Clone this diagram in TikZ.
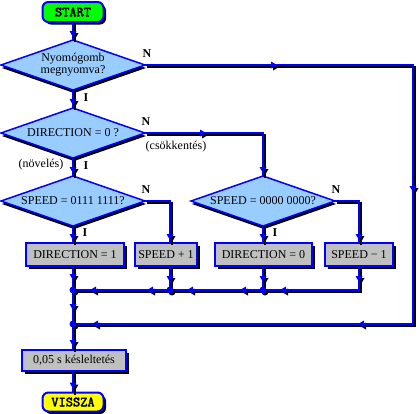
\documentclass[tikz,border=0pt]{standalone}
\usepackage{fontspec}
\setmainfont{Liberation Serif}
\newfontfamily\termfont{Latin Modern Mono}[FakeBold=3]
\usetikzlibrary{shapes.geometric,shadows,decorations.markings}
\definecolor{dfill}{RGB}{153,204,255}
\definecolor{bfill}{RGB}{192,192,192}
\definecolor{gfill}{RGB}{0,255,0}
\definecolor{yfill}{RGB}{255,255,0}
% connector: list of named points; draws a shifted black shadow, then the blue line
\newcommand\cnx[2][]{%
  \gdef\shpath{}\gdef\mnpath{}%
  \foreach \p [count=\i] in {#2}{%
    \ifnum\i=1
      \xdef\shpath{([shift={(2pt,-2pt)}]\p)}\xdef\mnpath{(\p)}%
    \else
      \xdef\shpath{\shpath -- ([shift={(2pt,-2pt)}]\p)}\xdef\mnpath{\mnpath -- (\p)}%
    \fi}%
  \edef\cnxdo{\noexpand\draw[shline,#1] \shpath; \noexpand\draw[conn,#1] \mnpath;}%
  \cnxdo}
\begin{document}
\begin{tikzpicture}[x=1pt,y=-1pt,
 shd/.style={drop shadow={shadow xshift=#1,shadow yshift=-#1,fill=black,opacity=1}},
 shd/.default=3pt,
 dec/.style={diamond, aspect=2.88, minimum width=144pt, minimum height=50pt, inner sep=0pt, outer sep=0pt, draw=blue, line width=1.5pt, fill=dfill, drop shadow={shadow xshift=1pt,shadow yshift=-3pt,fill=black,opacity=1}, font=\fontsize{12}{12}\selectfont, align=center},
 proc/.style={rectangle, draw=blue, line width=2pt, fill=bfill, shd, inner sep=0pt, outer sep=0pt, minimum height=23pt, font=\fontsize{12}{12}\selectfont},
 term/.style={rectangle, rounded corners=6pt, draw=blue, line width=2pt, shd=2.5pt, inner sep=0pt, outer sep=0pt, minimum width=61pt, minimum height=20pt, font=\termfont\fontsize{14}{14}\selectfont},
 conn/.style={draw, color=blue, line width=2pt},
 shline/.style={draw, color=black, line width=2pt},
 ar/.style={postaction={decorate,decoration={markings,mark=at position #1 with {
   \fill (0pt,0pt) -- (-6pt,3.5pt) -- (-6pt,-3.5pt) -- cycle;}}}},
 lbl/.style={font=\bfseries\fontsize{12}{12}\selectfont, inner sep=0pt},
 txt/.style={font=\fontsize{12}{12}\selectfont, inner sep=0pt}
]
\useasboundingbox (0,0) rectangle (419,413);
\node[term, fill=gfill] (start) at (73,12) {START};
\node[dec] (d1) at (73,65) {Nyomógomb\\megnyomva?};
\node[dec] (d2) at (73,133) {DIRECTION = 0 ?};
\node[dec] (d3) at (73,201) {SPEED = 0111 1111?};
\node[dec] (d4) at (263,201) {SPEED = 0000 0000?};
\node[proc, minimum width=98pt] (b1) at (75,254.5) {DIRECTION = 1};
\node[proc, minimum width=62pt] (b2) at (166,254.5) {SPEED + 1};
\node[proc, minimum width=97pt] (b3) at (263.5,254.5) {DIRECTION = 0};
\node[proc, minimum width=68pt] (b4) at (359,254.5) {SPEED − 1};
\node[proc, minimum width=104pt, minimum height=21pt] (dl) at (74,360.5) {0,05 s késleltetés};
\node[term, fill=yfill, minimum height=19pt] (vs) at (73,402) {VISSZA};
\coordinate (j1) at (73,290);
\coordinate (j2) at (170,290);
\coordinate (j3) at (263,290);
\coordinate (j4) at (73,324);
\coordinate (c1) at (413,65);
\coordinate (c2) at (413,324);
\coordinate (c3) at (263,133);
\coordinate (c4) at (170,201);
\coordinate (c5) at (359,201);
\coordinate (c6) at (359,290);
\coordinate (b1n) at (d3.south |- b1.north);
\coordinate (b1s) at (j1 |- b1.south);
\coordinate (b2n) at (c4 |- b2.north);
\coordinate (b2s) at (c4 |- b2.south);
\coordinate (b3n) at (d4.south |- b3.north);
\coordinate (b3s) at (d4.south |- b3.south);
\coordinate (b4n) at (c5 |- b4.north);
\coordinate (b4s) at (c5 |- b4.south);
\coordinate (dln) at (j4 |- dl.north);
\coordinate (dls) at (vs |- dl.south);
\cnx[ar=-3pt]{start.south,d1.north}
\cnx[ar=-3pt]{d1.south,d2.north}
\cnx[ar=-3pt]{d2.south,d3.north}
\cnx[ar=-3pt]{d3.south,b1n}
\cnx[ar=14pt]{b1s,j1}
\cnx[ar=20pt]{j1,j4}
\cnx[ar=-4pt]{j4,dln}
\cnx[ar=-4pt]{dls,vs.north}
\cnx[ar=132pt, ar=395pt, ar=582pt, ar=848pt]{d1.east,c1,c2,j4}
\cnx[ar=61pt, ar=-3pt]{d2.east,c3,d4.north}
\cnx[ar=-3pt]{d3.east,c4,b2n}
\cnx[ar=-3pt]{d4.east,c5,b4n}
\cnx[ar=-3pt]{d4.south,b3n}
\cnx[ar=16pt]{b2s,j2}
\cnx[ar=16pt]{b3s,j3}
\cnx[ar=16pt, ar=103pt]{b4s,c6,j3}
\cnx[ar=23pt, ar=76pt]{j3,j2}
\cnx[ar=23pt, ar=80pt]{j2,j1}
\foreach \j in {j1,j2,j3,j4} {
  \fill[black] ([shift={(2pt,-2pt)}]\j) circle (3.5pt);
  \fill[blue] (\j) circle (3.5pt);
}
\node[lbl] (n1) at (147,54) {N};
\node[lbl] (i1) at (86,98) {I};
\node[lbl] (n2) at (146,122) {N};
\node[lbl] (i2) at (86,166) {I};
\node[txt] (cs) at (176,147) {(csökkentés)};
\node[txt] (nv) at (41,165) {(növelés)};
\node[lbl] (n3) at (146,190) {N};
\node[lbl] (i3) at (85,233) {I};
\node[lbl] (n4) at (336,190) {N};
\node[lbl] (i4) at (275,233) {I};
\end{tikzpicture}
\end{document}
